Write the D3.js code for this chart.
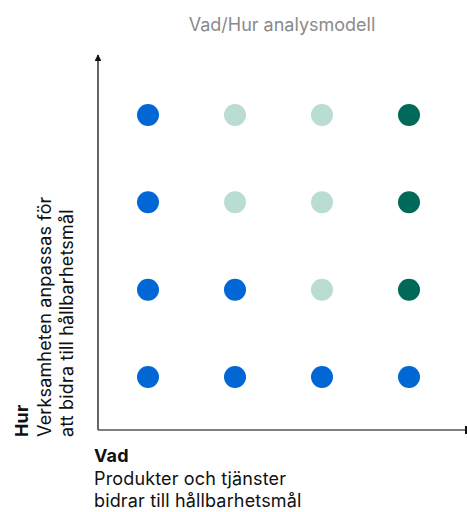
<!DOCTYPE html>
<html>
<head>
<meta charset="utf-8">
<script src="https://cdn.jsdelivr.net/npm/d3@7"></script>
<style>
  body { margin: 0; background: #fff; }
  svg text { font-family: Inter, "Open Sans", sans-serif; }
</style>
</head>
<body>
<div id="chart"></div>
<script>
// Vad (x) and Hur (y) levels
var vadLevels = [1, 2, 3, 4];
var hurLevels = [1, 2, 3, 4];
// status per row, bottom row first
var rowStatus = [
    ["blue", "blue", "blue", "blue"],
    ["blue", "blue", "light", "dark"],
    ["blue", "light", "light", "dark"],
    ["blue", "light", "light", "dark"]
];
var title = "Vad/Hur analysmodell";
var xLabel = ["Vad", "Produkter och tjänster", "bidrar till hållbarhetsmål"];
var yLabel = ["Hur", "Verksamheten anpassas för", "att bidra till hållbarhetsmål"];

var colors = { blue: "#0067d5", light: "#b9dcd3", dark: "#00695a" };

var width = 467, height = 512;
var origin = { x: 98, y: 430 };

var svg = d3.select("#chart").append("svg")
    .attr("width", width)
    .attr("height", height);

var x = d3.scaleLinear().domain([1, 4]).range([148, 409]);
var y = d3.scaleLinear().domain([1, 4]).range([377, 115]);

// title
svg.append("text")
    .attr("x", 282)
    .attr("y", 31)
    .attr("text-anchor", "middle")
    .attr("font-size", "18px")
    .attr("fill", "#8a8a8a")
    .text(title);

// arrow marker
svg.append("defs").append("marker")
    .attr("id", "arrow")
    .attr("viewBox", "0 0 10 10")
    .attr("refX", 9)
    .attr("refY", 5)
    .attr("markerWidth", 7)
    .attr("markerHeight", 7)
    .attr("markerUnits", "userSpaceOnUse")
    .attr("orient", "auto")
    .append("path")
    .attr("d", "M0,0L10,5L0,10Z")
    .attr("fill", "#111");

// axes
svg.append("line")
    .attr("x1", origin.x).attr("y1", origin.y)
    .attr("x2", origin.x).attr("y2", 55)
    .attr("stroke", "#333")
    .attr("stroke-width", 1.5)
    .attr("marker-end", "url(#arrow)");

svg.append("line")
    .attr("x1", origin.x).attr("y1", origin.y)
    .attr("x2", 466).attr("y2", origin.y)
    .attr("stroke", "#555")
    .attr("stroke-width", 1.5);

svg.append("line")
    .attr("x1", 466).attr("y1", origin.y - 4)
    .attr("x2", 466).attr("y2", origin.y + 4)
    .attr("stroke", "#111")
    .attr("stroke-width", 2);

// dots
var cells = [];
hurLevels.forEach(function(h, i) {
    vadLevels.forEach(function(v, j) {
        cells.push({ vad: v, hur: h, status: rowStatus[i][j] });
    });
});

svg.selectAll("circle.dot")
    .data(cells)
    .enter()
    .append("circle")
    .attr("class", "dot")
    .attr("cx", function(d) { return x(d.vad); })
    .attr("cy", function(d) { return y(d.hur); })
    .attr("r", 11)
    .attr("fill", function(d) { return colors[d.status]; });

// x label
var xl = svg.append("text")
    .attr("font-size", "18px")
    .attr("letter-spacing", "0.15px")
    .attr("fill", "#111");
[462, 485, 507].forEach(function(yy, i) {
    xl.append("tspan")
        .attr("x", 94)
        .attr("y", yy)
        .attr("font-weight", i === 0 ? "bold" : "normal")
        .text(xLabel[i]);
});

// y label
var yl = svg.append("text")
    .attr("transform", "rotate(-90)")
    .attr("font-size", "18px")
    .attr("letter-spacing", "0.15px")
    .attr("fill", "#111");
[28, 51, 73].forEach(function(xx, i) {
    yl.append("tspan")
        .attr("x", -437)
        .attr("y", xx)
        .attr("font-weight", i === 0 ? "bold" : "normal")
        .text(yLabel[i]);
});
</script>
</body>
</html>
